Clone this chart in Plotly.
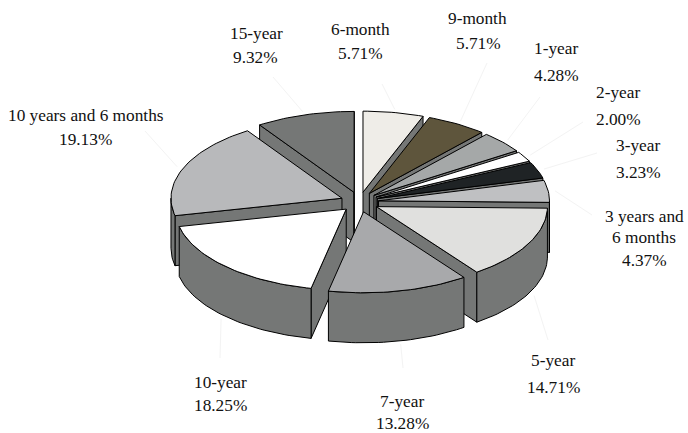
import math
import plotly.graph_objects as go

# --- data ---
maturities = ["6-month", "9-month", "1-year", "2-year", "3-year", "3 years and 6 months",
              "5-year", "7-year", "10-year", "10 years and 6 months", "15-year"]
shares = [5.71, 5.71, 4.28, 2.00, 3.23, 4.37, 14.71, 13.28, 18.25, 19.13, 9.32]
top_colors = ["#efede8", "#5e553c", "#a5a8a8", "#ffffff", "#1f2325", "#bfc0c2",
              "#e0e0de", "#a8a9ab", "#ffffff", "#b8b9bb", "#757776"]

# --- pie geometry, in pixels ---
CX, CY = 359.6, 202.0
RX, RY = 171.0, 81.0
EXPLODE_X, EXPLODE_Y = 19.0, 10.0
DEPTH = 50.0
SIDE = "#757776"
FONT = "Liberation Serif"

# text lines as (text, x, y); the name and the share are placed line by line
label_lines = [
    [("6-month", 360, 29), ("5.71%", 360, 53)],
    [("9-month", 477, 18), ("5.71%", 478, 43)],
    [("1-year", 556, 48), ("4.28%", 556, 75)],
    [("2-year", 618, 92), ("2.00%", 618, 119)],
    [("3-year", 638, 145), ("3.23%", 638, 172)],
    [("3 years and", 644, 216), ("6 months", 644, 237), ("4.37%", 644, 260)],
    [("5-year", 553, 360), ("14.71%", 553, 387)],
    [("7-year", 402, 401), ("13.28%", 402, 423)],
    [("10-year", 220, 382), ("18.25%", 220, 405)],
    [("10 years and 6 months", 86, 115), ("19.13%", 85, 139)],
    [("15-year", 256, 33), ("9.32%", 255, 57)],
]
leader_ends = [(382, 84), (487, 63), (540, 97), (583, 122), (597, 153), (592, 215),
               (548, 340), (403, 368), (220, 358), (145, 131), (273, 77)]

fig = go.Figure()


def add_poly(xs, ys, fill):
    fig.add_trace(go.Scatter(x=xs + xs[:1], y=ys + ys[:1], mode="lines", fill="toself",
                             fillcolor=fill, line=dict(color="#000000", width=1),
                             hoverinfo="skip", showlegend=False))


def arc_point(ax, ay, deg):
    rad = math.radians(deg)
    return ax + RX * math.sin(rad), ay - RY * math.cos(rad)


def draw_wall(ax, ay, px, py, mx, my):
    # only walls whose slice lies above the edge face the viewer
    ex, ey = px - ax, py - ay
    side_of_mid = ex * (my - ay) - ey * (mx - ax)
    side_of_down = ex * DEPTH
    if side_of_mid * side_of_down < 0:
        add_poly([ax, px, px, ax], [ay, py, py + DEPTH, ay + DEPTH], SIDE)


# --- slices, from the back of the pie to the front ---
slices = []
total = 0.0
scale = 360.0 / sum(shares)
for i, share in enumerate(shares):
    start = total * scale
    end = (total + share) * scale
    total += share
    mid = (start + end) / 2
    rad = math.radians(mid)
    ax = CX + EXPLODE_X * math.sin(rad)
    ay = CY - EXPLODE_Y * math.cos(rad)
    slices.append(dict(i=i, start=start, end=end, mid=mid, ax=ax, ay=ay))

for s in sorted(slices, key=lambda item: item["ay"]):
    ax, ay = s["ax"], s["ay"]
    steps = max(6, int((s["end"] - s["start"]) / 1.5))
    degs = [s["start"] + (s["end"] - s["start"]) * k / steps for k in range(steps + 1)]
    arc = [arc_point(ax, ay, d) for d in degs]
    mx, my = arc_point(ax, ay, s["mid"])
    draw_wall(ax, ay, arc[0][0], arc[0][1], mx, my)
    draw_wall(ax, ay, arc[-1][0], arc[-1][1], mx, my)

    # outer rim, only the half that faces the viewer
    front = [p for d, p in zip(degs, arc) if 90 <= d <= 270]
    lo, hi = max(s["start"], 90), min(s["end"], 270)
    if lo < hi:
        front = [arc_point(ax, ay, lo)] + front + [arc_point(ax, ay, hi)]
        xs = [p[0] for p in front]
        ys = [p[1] for p in front]
        add_poly(xs + xs[::-1], ys + [y + DEPTH for y in ys[::-1]], SIDE)

    add_poly([ax] + [p[0] for p in arc], [ay] + [p[1] for p in arc], top_colors[s["i"]])

# --- faint leader lines and the labels ---
for s, (ex, ey) in zip(slices, leader_ends):
    rad = math.radians(s["mid"])
    sx = s["ax"] + RX * 1.04 * math.sin(rad)
    sy = s["ay"] - RY * 1.04 * math.cos(rad) + (DEPTH if math.cos(rad) < 0 else 0)
    fig.add_trace(go.Scatter(x=[sx, ex], y=[sy, ey], mode="lines",
                             line=dict(color="#f3f3f3", width=1),
                             hoverinfo="skip", showlegend=False))

for lines in label_lines:
    for text, x, y in lines:
        fig.add_annotation(x=x, y=y, text=text, showarrow=False, xanchor="center", yanchor="middle",
                           font=dict(family=FONT, size=17.3, color="#111111"))

fig.update_layout(
    width=688, height=433, margin=dict(l=0, r=0, t=0, b=0),
    paper_bgcolor="#ffffff", plot_bgcolor="#ffffff", showlegend=False,
)
fig.update_xaxes(range=[0, 688], visible=False)
fig.update_yaxes(range=[433, 0], visible=False)

# the page body has a default margin that would push the chart off the window
fig.write_html("out.html", config=dict(displayModeBar=False),
               post_script="document.body.style.margin='0';")
